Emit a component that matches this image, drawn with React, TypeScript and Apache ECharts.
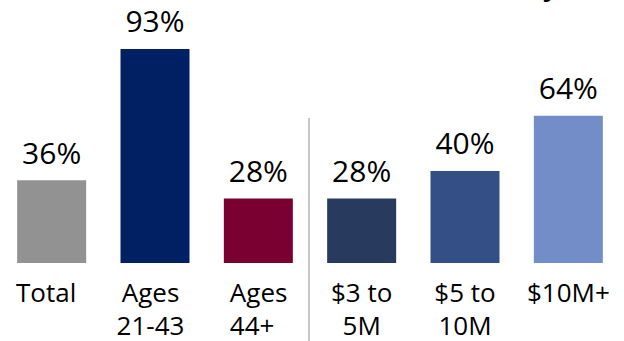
import React, { useEffect, useRef } from "react";
import * as echarts from "echarts";

const categories = ["Total", "Ages 21-43", "Ages 44+", "$3 to 5M", "$5 to 10M", "$10M+"];
const labelTexts = ["{t|Total}", "{a|Ages}\n{a|21-43}", "{l|Ages}\n{l|44+}", "$3 to\n5M", "$5 to\n10M", "$10M+"];
const values = [36, 93, 28, 28, 40, 64];
const barColors = ["#929292", "#002064", "#7a0031", "#283a5e", "#344f86", "#728dc8"];

export default function App() {
  const ref = useRef<HTMLDivElement>(null);
  useEffect(() => {
    if (!ref.current) return;
    const chart = echarts.init(ref.current, null, { renderer: "svg" });
    const font = "'Open Sans', 'Noto Sans', sans-serif";
    chart.setOption({
      animation: false,
      backgroundColor: "#ffffff",
      grid: { left: 0, right: 4, top: 32.8, bottom: 77, containLabel: false },
      xAxis: {
        type: "category",
        data: categories,
        axisLine: { show: false },
        axisTick: { show: false },
        axisLabel: {
          interval: 0,
          margin: 12,
          color: "#000000",
          fontFamily: font,
          fontSize: 26,
          lineHeight: 33,
          formatter: (_v: string, i: number) => labelTexts[i],
          rich: {
            t: { fontFamily: font, fontSize: 26, lineHeight: 33, color: "#000", padding: [0, 11, 0, 0] },
            a: { fontFamily: font, fontSize: 26, lineHeight: 33, color: "#000", padding: [0, 9, 0, 0] },
            l: { fontFamily: font, fontSize: 26, lineHeight: 33, color: "#000", width: 60, align: "left", padding: [0, 0, 0, 3] },
          },
        },
      },
      yAxis: { type: "value", min: 0, max: 100, show: false, splitLine: { show: false } },
      series: [
        {
          type: "bar",
          barWidth: 69,
          data: values.map((v, i) => ({ value: v, itemStyle: { color: barColors[i] } })),
          label: {
            show: true,
            position: "top",
            distance: 13,
            formatter: "{c}%",
            color: "#000000",
            fontFamily: font,
            fontSize: 30,
          },
        },
      ],
      graphic: [
        {
          type: "line",
          shape: { x1: 309, y1: 118, x2: 309, y2: 341 },
          style: { stroke: "#b4b4b4", lineWidth: 1.5 },
          silent: true,
        },
        {
          type: "text",
          x: 543,
          y: -1,
          style: { text: "y", fontFamily: font, fontSize: 26, fontWeight: "bold", fill: "#000", verticalAlign: "bottom" },
          silent: true,
        },
      ],
    });
    return () => chart.dispose();
  }, []);
  return <div ref={ref} style={{ position: "fixed", left: 0, top: 0, width: 624, height: 341 }} />;
}
